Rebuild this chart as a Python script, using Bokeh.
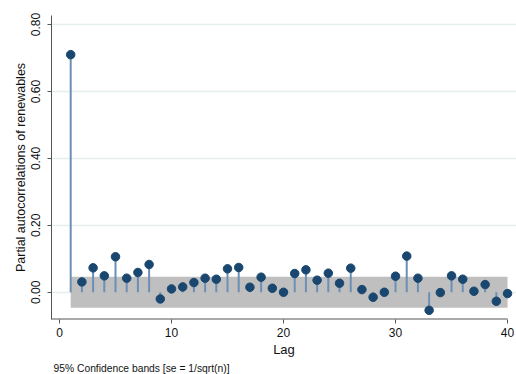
from bokeh.plotting import figure
from bokeh.models import Range1d, FixedTicker, Title, CustomJSTickFormatter
from bokeh.embed import file_html
from bokeh.resources import INLINE

# Data
lags = list(range(1, 41))
pacf = [0.710, 0.031, 0.073, 0.049, 0.106, 0.042, 0.059, 0.083, -0.020, 0.010,
        0.016, 0.029, 0.042, 0.039, 0.070, 0.074, 0.015, 0.045, 0.012, 0.000,
        0.056, 0.067, 0.036, 0.057, 0.027, 0.072, 0.008, -0.015, 0.000, 0.048,
        0.108, 0.042, -0.054, -0.001, 0.049, 0.039, 0.003, 0.023, -0.027, -0.004]
conf_band = 0.046
y_ticks = [0.0, 0.2, 0.4, 0.6, 0.8]
x_ticks = [0, 10, 20, 30, 40]

FONT = "Liberation Sans"
X0, X1 = -0.714, 40.8
Y0, Y1 = -0.0814, 0.827

p = figure(width=516, height=374, output_backend="svg", toolbar_location=None,
           x_range=Range1d(X0, X1), y_range=Range1d(Y0, Y1),
           min_border_left=51, min_border_right=0, min_border_top=15, min_border_bottom=53,
           background_fill_color="white", border_fill_color="white")
p.outline_line_color = None

# confidence band
p.quad(left=[lags[0]], right=[lags[-1]], bottom=[-conf_band], top=[conf_band],
       fill_color="#bfbfbf", line_color=None)

# stems
p.segment(x0=lags, y0=[0] * len(lags), x1=lags, y1=pacf,
          line_color="#6b90b6", line_width=2)
# markers
p.scatter(lags, pacf, size=8.5, fill_color="#1a476f", line_color="#1a476f")

# x axis line only up to the last tick (drawn at the frame bottom, half clipped)
p.segment(x0=[X0], y0=[Y0], x1=[x_ticks[-1]], y1=[Y0], line_color="#555555", line_width=2.2)

# grid
p.xgrid.grid_line_color = None
p.ygrid.ticker = FixedTicker(ticks=y_ticks)
p.ygrid.grid_line_color = "#e6eeee"
p.ygrid.grid_line_width = 1.5

# axes
p.yaxis.ticker = FixedTicker(ticks=y_ticks)
p.yaxis.formatter = CustomJSTickFormatter(code="return tick.toFixed(2);")
p.xaxis.ticker = FixedTicker(ticks=x_ticks)
for ax in (p.xaxis[0], p.yaxis[0]):
    ax.axis_line_color = "#555555"
    ax.major_tick_line_color = "#555555"
    ax.major_tick_out = 4
    ax.major_tick_in = 0
    ax.minor_tick_line_color = None
    ax.major_label_text_font = FONT
    ax.major_label_text_font_size = "12px"
    ax.major_label_text_color = "#111111"
    ax.axis_label_text_font = FONT
    ax.axis_label_text_font_size = "13px"
    ax.axis_label_text_font_style = "normal"
    ax.axis_label_text_color = "#111111"
p.xaxis.axis_line_color = None

p.yaxis.axis_label = "Partial autocorrelations of renewables"
p.yaxis.axis_label_text_font_size = "12.5px"
p.yaxis.major_label_orientation = "vertical"
p.yaxis.major_label_standoff = 7
p.yaxis.axis_label_standoff = 1
p.xaxis.axis_label = "Lag"
p.xaxis.major_label_standoff = 4
p.xaxis.axis_label_standoff = 2

note = Title(text="95% Confidence bands [se = 1/sqrt(n)]", align="left",
             text_font=FONT, text_font_size="10.3px", text_font_style="normal",
             text_color="#111111", offset=2, standoff=2)
p.add_layout(note, "below")

open("out.html", "w").write(file_html(p, INLINE))
